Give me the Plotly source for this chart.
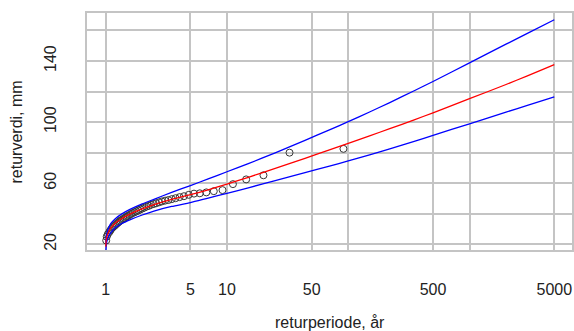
import plotly.graph_objects as go

# Observed return levels (empirical plotting positions)
obs_period = [91.3, 32.8, 20.0, 14.4, 11.2, 9.19, 7.79, 6.76, 5.97, 5.35,
              4.84, 4.42, 4.07, 3.77, 3.51, 3.29, 3.09, 2.91, 2.76, 2.61,
              2.49, 2.37, 2.27, 2.17, 2.08, 2.00, 1.93, 1.86, 1.79, 1.73,
              1.67, 1.62, 1.57, 1.52, 1.48, 1.44, 1.40, 1.36, 1.32, 1.29,
              1.26, 1.23, 1.20, 1.17, 1.14, 1.11, 1.09, 1.07, 1.04, 1.02, 1.01]
obs_value = [82.5, 80.0, 65.2, 62.5, 59.4, 55.5, 54.8, 54.0, 53.4, 53.2,
             52.4, 51.5, 50.9, 50.2, 49.6, 49.0, 48.6, 48.1, 47.5, 46.9,
             46.4, 45.9, 45.2, 44.7, 44.0, 43.4, 42.9, 42.2, 41.6, 41.0,
             40.5, 39.9, 39.2, 38.6, 38.0, 37.3, 36.7, 36.1, 35.5, 34.8,
             34.1, 33.4, 32.6, 31.8, 31.0, 30.0, 29.0, 28.0, 26.6, 25.0, 22.5]

# Fitted return level curve and confidence bounds
curve_period = [1.002, 1.005, 1.01, 1.03, 1.06, 1.1, 1.2, 1.35, 1.6, 2, 2.5,
                3.5, 5, 7, 10, 15, 25, 44, 70, 100, 150, 220, 350, 500, 1000,
                2000, 3000, 5000]
fit_level = [18.5, 20.5, 22.5, 25.8, 28.3, 30.6, 33.8, 36.8, 40.0, 43.2, 46.0,
             49.5, 52.5, 55.7, 59.4, 63.9, 69.7, 76.3, 81.8, 86.1, 91.0, 95.7,
             101.5, 106.1, 115.3, 124.6, 130.3, 137.6]
upper_level = [21.0, 23.0, 25.0, 28.0, 31.0, 33.5, 36.8, 39.8, 43.0, 46.5, 49.5,
               54.0, 58.5, 62.8, 67.5, 72.8, 79.9, 88.1, 94.9, 100.3, 106.6,
               112.8, 120.5, 126.6, 138.8, 151.0, 158.1, 167.0]
lower_level = [10.0, 16.0, 19.0, 23.0, 25.5, 27.5, 30.8, 33.5, 36.2, 39.2, 41.8,
               44.8, 47.3, 50.3, 53.4, 57.0, 61.7, 66.9, 71.2, 74.6, 78.6, 82.5,
               87.4, 91.3, 98.9, 106.5, 110.9, 116.5]

x_ticks = [1, 5, 10, 50, 100, 500, 1000, 5000]
x_ticktext = ["1", "5", "10", "50", "", "500", "", "5000"]
y_ticks = [20, 40, 60, 80, 100, 120, 140, 160]
y_ticktext = ["20", "", "60", "", "100", "", "140", ""]

FONT = "Liberation Sans, Arial, sans-serif"
GRID = "#c4c4c4"

fig = go.Figure()
fig.add_trace(go.Scatter(x=obs_period, y=obs_value, mode="markers",
                         marker=dict(symbol="circle-open", size=7,
                                     color="#383838", line=dict(width=1)),
                         showlegend=False))
for vals, col in ((upper_level, "blue"), (lower_level, "blue"), (fit_level, "red")):
    fig.add_trace(go.Scatter(x=curve_period, y=vals, mode="lines",
                             line=dict(color=col, width=1.3, shape="spline", smoothing=0.6),
                             showlegend=False))

fig.update_layout(
    width=574, height=331,
    margin=dict(l=87, r=2, t=13, b=81),
    paper_bgcolor="white", plot_bgcolor="white",
    font=dict(family=FONT, size=16, color="#222222"),
    xaxis=dict(type="log", range=[-0.154, 3.845], automargin=False,
               tickvals=x_ticks, ticktext=x_ticktext,
               showgrid=True, gridcolor=GRID, gridwidth=1.5,
               showline=True, mirror=True, linecolor=GRID, linewidth=1.5,
               ticks="outside", ticklen=24, tickcolor="rgba(0,0,0,0)",
               zeroline=False),
    yaxis=dict(range=[16.3, 171.4], automargin=False,
               tickvals=y_ticks, ticktext=y_ticktext, tickangle=-90,
               showgrid=True, gridcolor=GRID, gridwidth=1.5,
               showline=True, mirror=True, linecolor=GRID, linewidth=1.5,
               ticks="outside", ticklen=23, tickcolor="rgba(0,0,0,0)",
               zeroline=False),
    annotations=[
        dict(text="returperiode, år", xref="paper", yref="paper",
             x=0.5, y=-0.3076, xanchor="center", yanchor="middle",
             showarrow=False, font=dict(family=FONT, size=16, color="#222222")),
        dict(text="returverdi, mm", xref="paper", yref="paper",
             x=-0.1444, y=0.5, xanchor="center", yanchor="middle", textangle=-90,
             showarrow=False, font=dict(family=FONT, size=16, color="#222222")),
    ],
)

fig.write_html("out.html", config={"displayModeBar": False},
               post_script="document.body.style.margin='0';"
                           "document.body.style.overflow='hidden';")
